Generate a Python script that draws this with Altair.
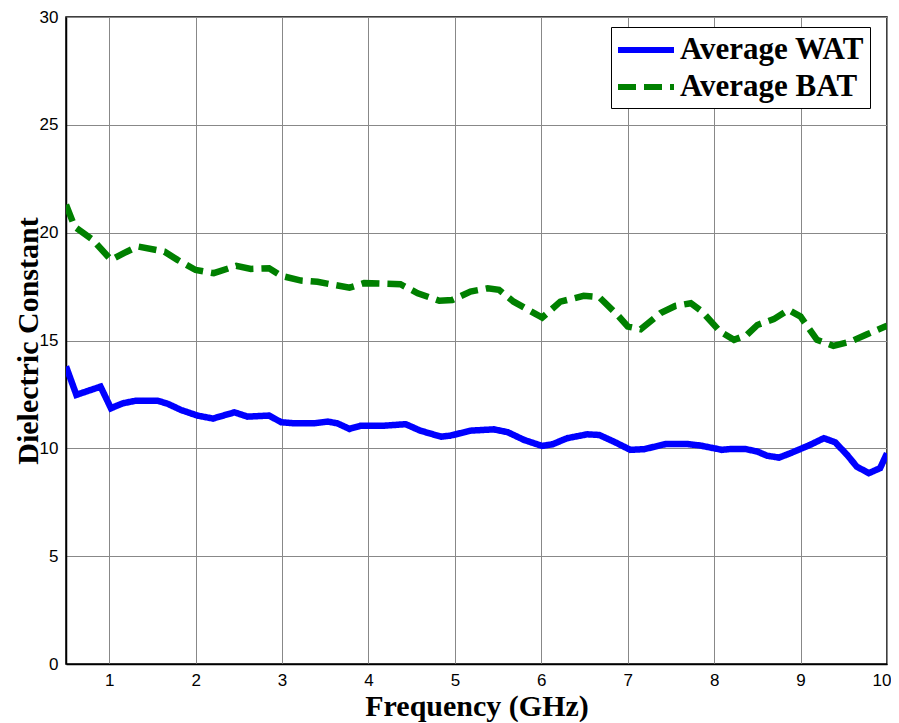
import altair as alt
import pandas as pd

wat_x = [0.5, 0.62, 0.9, 1.02, 1.16, 1.31, 1.56, 1.68, 1.83, 2.02, 2.2, 2.45, 2.6, 2.85, 2.99,
         3.14, 3.37, 3.53, 3.64, 3.78, 3.91, 4.18, 4.43, 4.6, 4.84, 4.95, 5.18, 5.45, 5.61, 5.8,
         6.01, 6.13, 6.3, 6.53, 6.67, 6.84, 7.03, 7.19, 7.44, 7.69, 7.84, 8.09, 8.19, 8.36, 8.5,
         8.61, 8.75, 8.88, 9.11, 9.27, 9.4, 9.54, 9.65, 9.79, 9.92, 10.0]
wat_y = [13.8, 12.48, 12.86, 11.86, 12.09, 12.21, 12.21, 12.06, 11.78, 11.52, 11.38, 11.67, 11.47,
         11.52, 11.21, 11.16, 11.16, 11.24, 11.16, 10.9, 11.05, 11.05, 11.12, 10.82, 10.54, 10.59,
         10.82, 10.88, 10.75, 10.39, 10.11, 10.19, 10.47, 10.65, 10.62, 10.31, 9.93, 9.96, 10.2,
         10.2, 10.13, 9.93, 9.97, 9.97, 9.85, 9.66, 9.57, 9.77, 10.16, 10.47, 10.28, 9.69, 9.15,
         8.85, 9.08, 9.77]

bat_x = [0.5, 0.6, 0.81, 1.02, 1.17, 1.33, 1.64, 1.79, 2.0, 2.21, 2.47, 2.64, 2.85, 2.99, 3.22,
         3.41, 3.6, 3.78, 3.95, 4.37, 4.57, 4.82, 4.97, 5.18, 5.38, 5.51, 5.68, 6.01, 6.22, 6.49,
         6.67, 6.88, 7.0, 7.15, 7.38, 7.55, 7.73, 7.86, 8.07, 8.23, 8.38, 8.5, 8.69, 8.86, 9.0,
         9.19, 9.38, 9.58, 9.77, 10.0]
bat_y = [21.3, 20.28, 19.67, 18.74, 19.05, 19.36, 19.12, 18.74, 18.27, 18.12, 18.46, 18.32, 18.35,
         18.0, 17.78, 17.72, 17.58, 17.45, 17.66, 17.61, 17.19, 16.84, 16.88, 17.27, 17.42, 17.35,
         16.8, 16.06, 16.8, 17.07, 17.01, 16.19, 15.65, 15.52, 16.27, 16.6, 16.73, 16.34, 15.41,
         15.03, 15.26, 15.72, 15.99, 16.42, 16.11, 15.03, 14.75, 14.95, 15.29, 15.68]

series_names = ["Average WAT", "Average BAT"]
series_colors = ["#0000ff", "#008000"]
x_ticks = [1, 2, 3, 4, 5, 6, 7, 8, 9, 10]
y_ticks = [0, 5, 10, 15, 20, 25, 30]

rows = []
for i, (xx, yy) in enumerate(zip(wat_x, wat_y)):
    rows.append({"f": xx, "v": yy, "s": series_names[0], "o": i})
for i, (xx, yy) in enumerate(zip(bat_x, bat_y)):
    rows.append({"f": xx, "v": yy, "s": series_names[1], "o": i})
df = pd.DataFrame(rows)

serif = "Liberation Serif"
sans = "Liberation Sans"

leg = alt.Legend(
    orient="none", legendX=545, legendY=10, title=None,
    symbolType="M-1.143,0H2.857", symbolSize=784, symbolStrokeWidth=6,
    labelFont=serif, labelFontSize=31, labelFontWeight="bold", labelColor="black",
    fillColor="white", strokeColor="black", padding=6, rowPadding=5, labelOffset=29,
    labelLimit=400,
)

axis_common = dict(
    grid=True, gridColor="#888888", gridWidth=1, ticks=False,
    domain=True, domainColor="black", domainWidth=1.5,
    labelFont=sans, labelFontSize=17, labelColor="black", labelPadding=8,
    labelOverlap=False,
    titleFont=serif, titleFontSize=30, titleFontWeight="bold", titleColor="black",
)

chart = alt.Chart(df).mark_line(strokeWidth=6.5, clip=True).encode(
    x=alt.X("f:Q", scale=alt.Scale(domain=[0.5, 10], nice=False, zero=False),
            axis=alt.Axis(values=x_ticks, title="Frequency (GHz)", format="d",
                          labelFlush=True, labelFlushOffset=4,
                          titleBaseline="alphabetic", titleY=51, **axis_common)),
    y=alt.Y("v:Q", scale=alt.Scale(domain=[0, 30], nice=False),
            axis=alt.Axis(values=y_ticks, title="Dielectric Constant", labelFlush=False,
                          titleAngle=270, titleBaseline="alphabetic", titleAlign="center",
                          titleX=-29, titleY=323.5, **axis_common)),
    color=alt.Color("s:N", scale=alt.Scale(domain=series_names, range=series_colors), legend=leg),
    strokeDash=alt.StrokeDash("s:N", scale=alt.Scale(domain=series_names, range=[[1, 0], [18, 8]]), legend=leg),
    order="o:Q",
).properties(
    width=821, height=647,
    autosize=alt.AutoSizeParams(type="none"),
    padding={"left": 58, "top": 9, "right": 4, "bottom": 58},
    background="white",
).configure_view(
    stroke="black", strokeWidth=1.5,
)

chart.save("out.html", embed_options={"renderer": "svg", "actions": False})
